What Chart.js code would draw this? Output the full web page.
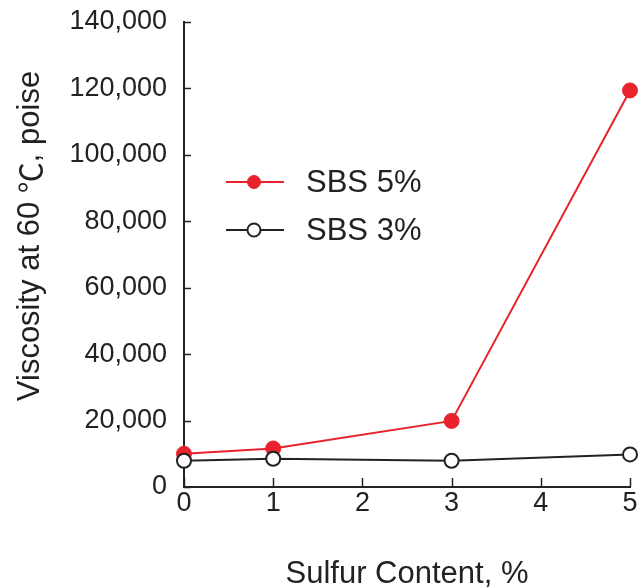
<!DOCTYPE html>
<html>
<head>
<meta charset="utf-8">
<script src="https://cdn.jsdelivr.net/npm/chart.js@4.4.1/dist/chart.umd.min.js"></script>
<style>
  html, body { margin: 0; padding: 0; background: #fff; }
  #wrap { width: 643px; height: 588px; }
</style>
</head>
<body>
<div id="wrap"><canvas id="myChart"></canvas></div>
<script>
// Viscosity vs sulfur content, two SBS dosages
const sulfur = [0, 1, 3, 5];
const sbs5 = [10000, 11600, 19900, 119400];
const sbs3 = [7900, 8500, 7900, 9800];
const seriesNames = ['SBS 5%', 'SBS 3%'];
const yTitleParts = ['Viscosity at 60 ', '\u2103', ', poise'];
const xTitle = 'Sulfur Content, %';

const FONT = '"Liberation Sans", Arial, sans-serif';
const CJK = '"Noto Sans CJK SC", sans-serif';
const INK = '#222';
const RED = '#e8232b';

const ctx = document.getElementById('myChart');

// inward tick marks on both axes + rotated y title
const innerTicks = {
  id: 'innerTicks',
  afterDraw(chart) {
    const c = chart.ctx;
    const area = chart.chartArea;
    c.save();
    c.strokeStyle = INK;
    c.lineWidth = 1.5;
    const ys = chart.scales.y;
    ys.ticks.forEach((t, i) => {
      const p = Math.round(ys.getPixelForTick(i)) + 0.5;
      c.beginPath();
      c.moveTo(area.left, p);
      c.lineTo(area.left + 7, p);
      c.stroke();
    });
    const xs = chart.scales.x;
    xs.ticks.forEach((t, i) => {
      const p = Math.round(xs.getPixelForTick(i)) + 0.5;
      c.beginPath();
      c.moveTo(p, area.bottom);
      c.lineTo(p, area.bottom - 9);
      c.stroke();
    });

    // y title: the degree sign comes from the CJK font (full width)
    const fonts = ['31px ' + FONT, '31px ' + CJK, '31px ' + FONT];
    let total = 0;
    const widths = yTitleParts.map((s, i) => {
      c.font = fonts[i];
      const w = c.measureText(s).width;
      total += w;
      return w;
    });
    c.fillStyle = INK;
    c.textAlign = 'left';
    c.textBaseline = 'middle';
    c.translate(30, 236);
    c.rotate(-Math.PI / 2);
    let x = -total / 2;
    yTitleParts.forEach((s, i) => {
      c.font = fonts[i];
      c.fillText(s, x, 0);
      x += widths[i];
    });
    c.restore();
  }
};

// legend drawn inside the plot
const innerLegend = {
  id: 'innerLegend',
  afterDraw(chart) {
    const c = chart.ctx;
    c.save();
    chart.data.datasets.forEach((ds, i) => {
      const y = 182 + i * 48;
      c.strokeStyle = ds.borderColor;
      c.lineWidth = ds.borderWidth;
      c.beginPath();
      c.moveTo(226, y);
      c.lineTo(284, y);
      c.stroke();
      c.beginPath();
      c.arc(254, y, 6.5, 0, Math.PI * 2);
      c.fillStyle = ds.pointBackgroundColor;
      c.fill();
      c.lineWidth = ds.pointBorderWidth;
      c.strokeStyle = ds.pointBorderColor;
      c.stroke();
      c.fillStyle = INK;
      c.font = '31px ' + FONT;
      c.textAlign = 'left';
      c.textBaseline = 'middle';
      c.fillText(ds.label, 306, y + 1);
    });
    c.restore();
  }
};

new Chart(ctx, {
  type: 'line',
  data: {
    datasets: [{
      label: seriesNames[0],
      data: sulfur.map((x, i) => ({ x: x, y: sbs5[i] })),
      borderColor: RED,
      borderWidth: 2,
      pointRadius: 7.5,
      pointBackgroundColor: RED,
      pointBorderColor: RED,
      pointBorderWidth: 1,
      order: 2
    }, {
      label: seriesNames[1],
      data: sulfur.map((x, i) => ({ x: x, y: sbs3[i] })),
      borderColor: INK,
      borderWidth: 2,
      pointRadius: 7,
      pointBackgroundColor: '#fff',
      pointBorderColor: INK,
      pointBorderWidth: 2,
      order: 1
    }]
  },
  options: {
    responsive: true,
    maintainAspectRatio: false,
    animation: false,
    clip: false,
    layout: { padding: { top: 22, right: 13, left: 0, bottom: 0 } },
    plugins: {
      legend: { display: false },
      tooltip: { enabled: false }
    },
    scales: {
      x: {
        type: 'linear',
        min: 0,
        max: 5,
        ticks: {
          stepSize: 1,
          color: INK,
          padding: 0,
          font: { family: FONT, size: 27 }
        },
        grid: { display: false, drawTicks: false },
        border: { display: true, color: INK, width: 2 },
        title: {
          display: true,
          text: xTitle,
          color: INK,
          padding: { top: 28, bottom: -5 },
          font: { family: FONT, size: 31 }
        },
        afterFit(scale) { scale.height = 101; }
      },
      y: {
        min: 0,
        max: 140000,
        ticks: {
          stepSize: 10000,
          color: INK,
          padding: 17,
          font: { family: FONT, size: 27 },
          callback: (v) => (v % 20000 === 0 ? v.toLocaleString('en-US') : '')
        },
        grid: { display: false, drawTicks: false },
        border: { display: true, color: INK, width: 2 },
        afterFit(scale) {
          scale.width = 184;
          scale.paddingTop = 0;
          scale.paddingBottom = 0;
        }
      }
    }
  },
  plugins: [innerTicks, innerLegend]
});
</script>
</body>
</html>
